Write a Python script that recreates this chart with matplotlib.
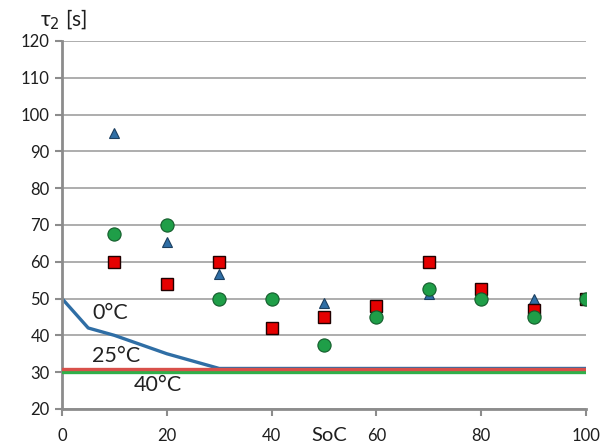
import numpy as np
import matplotlib.pyplot as plt

plt.rcParams["font.family"] = ["Lato", "DejaVu Sans"]

# measured tau_2 at each SoC point
soc = [10, 20, 30, 40, 50, 60, 70, 80, 90, 100]
tau_tri = [95, 65.5, 56.7, np.nan, 48.7, np.nan, 51.2, np.nan, 50, 50]
tau_sq = [60, 54, 60, 42, 45, 48, 60, 52.5, 47, 50]
tau_circ = [67.5, 70, 50, 50, 37.5, 45, 52.5, 50, 45, 50]

# fitted curves for the three temperatures
soc_0c = [0, 5, 10, 15, 20, 25, 30, 100]
tau_0c = [50, 42, 40, 37.5, 35, 33, 31, 31]
soc_line = [0, 100]
tau_25c = [30.8, 30.8]
tau_40c = [30, 30]

fig = plt.figure(figsize=(6.08, 4.45), dpi=100)
ax = fig.add_axes([0.102, 0.081, 0.862, 0.827])

ax.plot(soc_0c, tau_0c, color="#2f6ea5", lw=2.4, zorder=2)
ax.plot(soc_line, tau_40c, color="#2fb04a", lw=2.4, zorder=3)
ax.plot(soc_line, tau_25c, color="#d8504a", lw=2.4, zorder=3)

ax.plot(soc, tau_tri, ls="none", marker="^", ms=7.5, color="#2f6ea5",
        mec="#1c3f60", mew=0.8, zorder=4)
ax.plot(soc, tau_sq, ls="none", marker="s", ms=9, color="#e60000",
        mec="#200000", mew=1.0, zorder=5)
ax.plot(soc, tau_circ, ls="none", marker="o", ms=9.5, color="#1f9e48",
        mec="#145c2c", mew=0.8, zorder=6)

ax.text(5.7, 46, "0°C", fontsize=15.5, va="center", color="#222222")
ax.text(5.7, 34.4, "25°C", fontsize=15.5, va="center", color="#222222")
ax.text(13.6, 26.5, "40°C", fontsize=15.5, va="center", color="#222222")

ax.set_xlim(0, 100)
ax.set_ylim(20, 120)
ax.set_xticks(range(0, 101, 20))
ax.set_yticks(range(20, 121, 10))
ax.grid(axis="y", color="#a0a0a0", lw=1.2)
ax.set_axisbelow(True)

for s in ["top", "right"]:
    ax.spines[s].set_visible(False)
for s in ["left", "bottom"]:
    ax.spines[s].set_color("#8c8c8c")
    ax.spines[s].set_linewidth(2)
ax.tick_params(axis="both", colors="#8c8c8c", width=1.5, length=5,
               labelsize=12, labelcolor="#1e1e1e")
ax.tick_params(axis="x", pad=9)
ax.tick_params(axis="y", pad=4)

fig.text(0.066, 0.955, "τ$_2$ [s]", fontsize=15, color="#1e1e1e",
         va="center")
ax.text(51, -0.072, "SoC", transform=ax.get_xaxis_transform(),
        fontsize=14.5, ha="center", va="center", color="#1e1e1e")

fig.savefig("out.png", dpi=100)
